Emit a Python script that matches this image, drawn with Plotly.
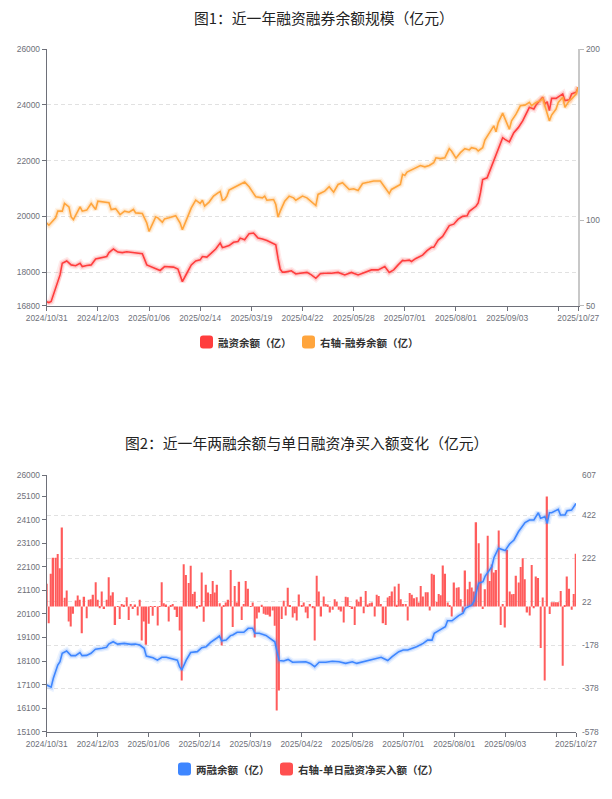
import plotly.graph_objects as go
import pandas as pd

# ---------------- data ----------------
# trading calendar (category axis)
holidays = ['2025-01-01', '2025-01-28', '2025-01-29', '2025-01-30', '2025-01-31',
            '2025-02-03', '2025-02-04', '2025-04-04', '2025-05-01', '2025-05-02',
            '2025-05-05', '2025-06-02', '2025-10-01', '2025-10-02', '2025-10-03',
            '2025-10-06', '2025-10-07', '2025-10-08']
dates = [d.strftime('%Y/%m/%d') for d in pd.bdate_range('2024-10-31', '2025-10-27')
         if d.strftime('%Y-%m-%d') not in holidays]

x_tick_labels = ['2024/10/31', '2024/12/03', '2025/01/06', '2025/02/14', '2025/03/19',
                 '2025/04/22', '2025/05/28', '2025/07/01', '2025/08/01', '2025/09/03',
                 '2025/10/27']

# Chart 1: 融资余额 (left axis), read at trading-day positions
fin_idx = [0, 1, 2, 6, 7, 9, 11, 13, 15, 16, 18, 20, 22, 25, 27, 28, 30, 32, 34, 36,
           39, 42, 43, 45, 47, 50, 51, 53, 55, 57, 59, 60, 61, 63, 65, 67, 69, 70, 72, 74,
           76, 78, 79, 80, 82, 84, 86, 87, 89, 91, 93, 95, 97, 99, 101, 103, 104, 105, 106, 107,
           110, 112, 114, 117, 119, 121, 123, 125, 128, 131, 134, 137, 140, 143, 146, 149, 152, 154, 156, 158,
           160, 161, 163, 164, 166, 169, 171, 173, 174, 176, 178, 181, 183, 185, 187, 189, 190, 193, 194, 195,
           196, 198, 200, 202, 203, 205, 206, 208, 210, 212, 214, 215, 216, 217, 219, 220, 223, 224, 225, 226,
           227, 229, 232, 233, 235, 236, 238, 239]
fin_val = [16940, 16910, 16950, 17900, 18320, 18400, 18260, 18230, 18320, 18200, 18240, 18260, 18470, 18530, 18560, 18700, 18830, 18720, 18700, 18730,
           18700, 18680, 18660, 18260, 18200, 18110, 18060, 18200, 18200, 18180, 18110, 17840, 17660, 17960, 18260, 18400, 18440, 18560, 18540, 18680,
           18830, 19040, 18880, 18900, 18950, 19070, 19100, 19220, 19160, 19380, 19400, 19220, 19190, 19130, 19040, 18980, 18500, 18100, 18000, 18000,
           18050, 17940, 17960, 17990, 17900, 17780, 17940, 17960, 17960, 17990, 17900, 17990, 17900, 17990, 18080, 18080, 18200, 17990, 18080, 18260,
           18420, 18410, 18430, 18380, 18490, 18610, 18770, 18890, 18890, 19150, 19280, 19670, 19720, 19900, 20000, 20020, 20180, 20360, 20480, 20840,
           21320, 21380, 21800, 22160, 22430, 22820, 22760, 22670, 23000, 23180, 23420, 23600, 23760, 23910, 23850, 23990, 24270, 24030, 24110, 23790,
           24230, 24230, 24390, 24150, 24180, 24390, 24450, 24630]

# Chart 1: 融券余额 (right axis)
sec_idx = [0, 1, 4, 5, 7, 8, 10, 11, 12, 14, 15, 16, 18, 20, 22, 23, 25, 28, 29, 31,
           33, 35, 37, 39, 40, 43, 45, 46, 49, 50, 52, 53, 55, 58, 60, 61, 63, 65, 67, 69,
           70, 71, 73, 75, 77, 78, 79, 80, 81, 82, 84, 86, 88, 89, 91, 94, 97, 98, 99, 102,
           103, 104, 105, 107, 109, 111, 112, 115, 117, 119, 121, 122, 125, 127, 129, 131, 133, 136, 138, 140,
           142, 145, 147, 150, 152, 154, 155, 157, 159, 160, 161, 162, 164, 166, 168, 170, 172, 174, 175, 177,
           179, 181, 182, 184, 186, 188, 190, 191, 193, 194, 196, 197, 199, 201, 202, 203, 205, 206, 208, 209,
           211, 213, 215, 217, 218, 220, 222, 223, 224, 226, 227, 229, 230, 232, 233, 235, 236, 238, 239]
sec_val = [98.3, 97.0, 101.3, 105.2, 105.2, 109.7, 107.7, 101.8, 100.3, 105.2, 107.7, 105.2, 105.8, 109.7, 106.2, 111.0, 110.5, 110.1, 106.2, 106.7,
           103.2, 105.2, 104.6, 106.2, 104.2, 103.8, 98.3, 93.4, 101.8, 101.3, 98.7, 100.7, 101.3, 102.6, 98.3, 94.4, 100.7, 107.1, 111.6, 109.7,
           111.6, 108.1, 110.5, 114.0, 115.9, 116.7, 111.6, 112.0, 114.0, 117.5, 118.9, 120.2, 121.4, 122.2, 119.5, 113.6, 113.0, 114.0, 111.6, 112.0,
           109.1, 101.8, 105.2, 111.0, 114.0, 113.0, 111.6, 114.0, 113.0, 111.0, 108.5, 115.0, 116.9, 119.5, 116.3, 120.8, 121.8, 117.9, 118.3, 117.3,
           121.4, 122.2, 122.8, 122.8, 118.9, 115.5, 117.9, 119.5, 120.8, 126.7, 126.1, 128.1, 129.5, 130.5, 131.9, 131.1, 131.9, 133.5, 136.4, 135.9,
           136.4, 141.7, 140.4, 136.2, 139.4, 141.7, 141.0, 142.3, 141.7, 140.4, 142.3, 146.8, 150.8, 155.1, 151.6, 157.0, 162.5, 159.0, 153.1, 158.0,
           161.9, 166.9, 167.2, 168.8, 166.9, 168.8, 169.8, 171.1, 166.9, 158.0, 161.4, 164.9, 168.8, 171.8, 165.9, 169.8, 170.8, 173.7, 177.7]

# Chart 2: 两融余额 (left axis)
tot_idx = [0, 2, 3, 5, 6, 7, 9, 11, 13, 15, 16, 18, 20, 22, 25, 27, 28, 30, 32, 35,
           38, 40, 42, 44, 45, 48, 50, 52, 54, 56, 59, 60, 61, 63, 65, 68, 70, 72, 74, 77,
           78, 79, 81, 83, 84, 86, 89, 91, 93, 94, 96, 99, 101, 103, 104, 105, 107, 109, 111, 114,
           117, 119, 121, 123, 126, 129, 132, 135, 138, 140, 143, 145, 148, 151, 154, 156, 159, 161, 163, 165,
           167, 170, 172, 174, 175, 177, 180, 181, 183, 186, 188, 189, 192, 193, 195, 197, 198, 201, 202, 204,
           206, 207, 209, 211, 213, 216, 218, 220, 222, 223, 225, 226, 227, 228, 231, 232, 234, 235, 237, 239]
tot_val = [17080, 16990, 17370, 17930, 18070, 18430, 18530, 18330, 18330, 18460, 18330, 18340, 18430, 18600, 18640, 18680, 18820, 18920, 18820, 18850,
           18810, 18820, 18780, 18640, 18310, 18240, 18140, 18260, 18260, 18220, 18140, 17860, 17720, 18140, 18460, 18500, 18670, 18710, 18890, 19090,
           19160, 18960, 18990, 19180, 19210, 19320, 19320, 19490, 19490, 19280, 19280, 19190, 19060, 18920, 18500, 18120, 18100, 18170, 18050, 18070,
           18070, 18000, 17860, 18050, 18050, 18090, 18070, 18000, 18070, 18000, 18070, 18140, 18190, 18260, 18120, 18290, 18500, 18570, 18570, 18640,
           18710, 18850, 18990, 18990, 19280, 19390, 19560, 19810, 19810, 20030, 20130, 20340, 20480, 20650, 21400, 21470, 21710, 22110, 22500, 22890,
           22840, 22790, 23070, 23240, 23590, 23980, 24090, 24090, 24400, 24160, 24230, 23950, 24400, 24400, 24540, 24300, 24300, 24480, 24510, 24790]

# Chart 2: 单日融资净买入额 (right axis), one value per trading day
net_buy = [105, -77, 151, 225, 225, 242, 177, 365, 40, 74,
           -69, -92, -34, 28, 51, 31, -123, 45, -54, 31,
           34, 54, 112, 31, -8, 69, -12, 31, 135, 51,
           66, -86, 2, -58, 12, 8, 43, -62, 12, -12,
           9, -42, 31, -157, -69, -177, -80, 2, -43, 2,
           -88, 2, 112, 15, 9, -69, 6, 11, -15, -49,
           -111, -342, 195, 145, 108, 188, 58, 68, -9, 3,
           157, -71, 100, 65, 58, 118, 65, 100, 15, -180,
           3, 18, 31, 169, -95, 95, 18, 114, -62, 12,
           118, 82, 2, 18, -143, -55, -28, 8, -34, -38,
           -38, -46, -18, -89, -480, -388, -58, 26, -42, 86,
           3, -51, -31, -65, 55, 6, 18, -28, -54, 11,
           -8, -157, 142, 69, -46, 46, 12, 9, -28, -15,
           34, 22, -15, -23, -74, 45, 43, 2, -12, -85,
           32, 22, 45, -31, 72, 9, 15, 18, -46, 54,
           49, 12, -77, -85, 42, 49, 69, 92, 8, 105,
           34, 11, 12, -65, 62, 54, 38, 43, 18, 95,
           46, 66, 66, -18, 151, 146, 22, 58, 52, 189,
           151, 18, 3, -46, 111, 86, 89, 34, -28, 166,
           80, 114, 88, 69, 389, 292, 152, -12, 80, 326,
           118, 194, 157, 169, 351, -85, 12, -97, 262, 69,
           57, 58, 142, 111, 182, 223, 126, -28, -42, 191,
           -8, 139, 131, -192, 42, -342, 508, -35, 20, 20,
           20, 20, 72, -274, 3, 139, 82, -15, 58, 243]

left1_ticks = [16800, 18000, 20000, 22000, 24000, 26000]
right1_ticks = [50, 100, 200]
left2_ticks = [15100, 16100, 17100, 18100, 19100, 20100, 21100, 22100, 23100, 24100, 25100, 26000]
right2_ticks = [-578, -378, -178, 22, 222, 422, 607]

titles = ['图1：近一年融资融券余额规模（亿元）', '图2：近一年两融余额与单日融资净买入额变化（亿元）']
legend1 = ['融资余额（亿）', '右轴-融券余额（亿）']
legend2 = ['两融余额（亿）', '右轴-单日融资净买入额（亿）']

# ---------------- styling ----------------
W, H = 612, 799
RED = '#FF3D3D'
ORANGE = '#FFA53D'
BLUE = '#3E86FF'
BAR = '#FF5C5C'
AXIS = '#6E7079'
GRID = '#E2E2E2'
TICKFONT = dict(family='Liberation Sans, Arial, sans-serif', size=8.4, color=AXIS)
CJK = 'Noto Sans CJK SC'


def px(x):
    return x / W


def py(y):
    return 1 - y / H


tickvals = dates[::23] + [dates[-1]]
ticktext = [d if d in x_tick_labels else '' for d in tickvals]

fig = go.Figure()


def glow_line(x, y, color, xaxis, yaxis):
    for w, op in [(7.0, 0.10), (4.2, 0.20)]:
        fig.add_trace(go.Scatter(x=x, y=y, mode='lines', line=dict(color=color, width=w),
                                 opacity=op, xaxis=xaxis, yaxis=yaxis, hoverinfo='skip',
                                 showlegend=False))
    fig.add_trace(go.Scatter(x=x, y=y, mode='lines', line=dict(color=color, width=1.6),
                             xaxis=xaxis, yaxis=yaxis, showlegend=False))


# chart 1
glow_line([dates[i] for i in fin_idx], fin_val, RED, 'x', 'y')
glow_line([dates[i] for i in sec_idx], sec_val, ORANGE, 'x', 'y2')

# chart 2 (bars on right axis y3, line on left axis y4 drawn on top)
fig.add_trace(go.Bar(x=dates, y=net_buy, marker=dict(color=BAR, line=dict(width=0)),
                     xaxis='x2', yaxis='y3', showlegend=False))
glow_line([dates[i] for i in tot_idx], tot_val, BLUE, 'x2', 'y4')

xcommon = dict(type='category', categoryorder='array', categoryarray=dates,
               range=[0, len(dates) - 1], tickmode='array', tickvals=tickvals, ticktext=ticktext,
               ticks='outside', ticklen=4, tickcolor=AXIS, showline=True, linecolor=AXIS,
               linewidth=1, showgrid=False, zeroline=False, tickfont=TICKFONT, tickangle=0,
               automargin=False)


def ytick(vals):
    return dict(tickmode='array', tickvals=vals, ticktext=[str(v) for v in vals])


fig.update_layout(
    width=W, height=H, margin=dict(l=0, r=0, t=0, b=0),
    paper_bgcolor='white', plot_bgcolor='white', bargap=0.38,
    font=dict(family=CJK, color='#333333'),
    xaxis=dict(domain=[px(46.7), px(578.3)], anchor='y', **xcommon),
    yaxis=dict(domain=[py(305.6), py(49)], anchor='x', range=[16800, 26000],
               **ytick(left1_ticks), ticks='outside', ticklen=4, tickcolor=AXIS,
               showline=True, linecolor=AXIS, linewidth=1, showgrid=True, gridcolor=GRID,
               griddash='4px,3px', gridwidth=1, zeroline=False, tickfont=TICKFONT,
               automargin=False),
    yaxis2=dict(overlaying='y', side='right', anchor='x', range=[50, 200],
                **ytick(right1_ticks), ticks='outside', ticklen=4,
                tickcolor='#BBBBBB', showline=True, linecolor='#C8C8C8', linewidth=1.8,
                showgrid=False, zeroline=False, tickfont=TICKFONT, automargin=False),
    xaxis2=dict(domain=[px(46.7), px(576.0)], anchor='y3', **xcommon),
    yaxis3=dict(domain=[py(731.7), py(475)], anchor='x2', side='right', range=[-578, 607],
                **ytick(right2_ticks), ticks='', showline=False,
                showgrid=True, gridcolor=GRID, griddash='4px,3px', gridwidth=1,
                zeroline=False, tickfont=TICKFONT, ticklabelstandoff=5, automargin=False),
    yaxis4=dict(overlaying='y3', side='left', anchor='x2', range=[15100, 26000],
                **ytick(left2_ticks), ticks='outside', ticklen=4,
                tickcolor=AXIS, showline=True, linecolor=AXIS, linewidth=1,
                showgrid=False, zeroline=False, tickfont=TICKFONT, automargin=False),
)

# titles
for t, xx, yy in zip(titles, [324, 306], [17, 442]):
    fig.add_annotation(text=t, x=px(xx), y=py(yy), xref='paper', yref='paper',
                       xanchor='center', yanchor='middle', showarrow=False,
                       font=dict(family=CJK, size=14.8, color='#222222'))


def rrect(x0, y0, x1, y1, r):
    rx, ry = r / W, r / H
    X0, X1, Y0, Y1 = px(x0), px(x1), py(y0), py(y1)
    return (f"M {X0 + rx},{Y0} L {X1 - rx},{Y0} Q {X1},{Y0} {X1},{Y0 - ry} "
            f"L {X1},{Y1 + ry} Q {X1},{Y1} {X1 - rx},{Y1} L {X0 + rx},{Y1} "
            f"Q {X0},{Y1} {X0},{Y1 + ry} L {X0},{Y0 - ry} Q {X0},{Y0} {X0 + rx},{Y0} Z")


legend_items = [
    (legend1[0], RED, 200, 342), (legend1[1], ORANGE, 302, 342),
    (legend2[0], BLUE, 178, 769), (legend2[1], '#FF4F4F', 280, 769),
]
for label, color, xi, yc in legend_items:
    fig.add_shape(type='path', path=rrect(xi, yc - 6.5, xi + 13, yc + 6.5, 3),
                  xref='paper', yref='paper', fillcolor=color, line=dict(width=0))
    fig.add_annotation(text=label, x=px(xi + 16), y=py(yc), xref='paper', yref='paper',
                       xanchor='left', yanchor='middle', showarrow=False,
                       font=dict(family=CJK, size=10.5, color='#333333', weight='bold'))

fig.write_html('out.html', config={'displayModeBar': False},
               post_script="document.body.style.margin='0';")
